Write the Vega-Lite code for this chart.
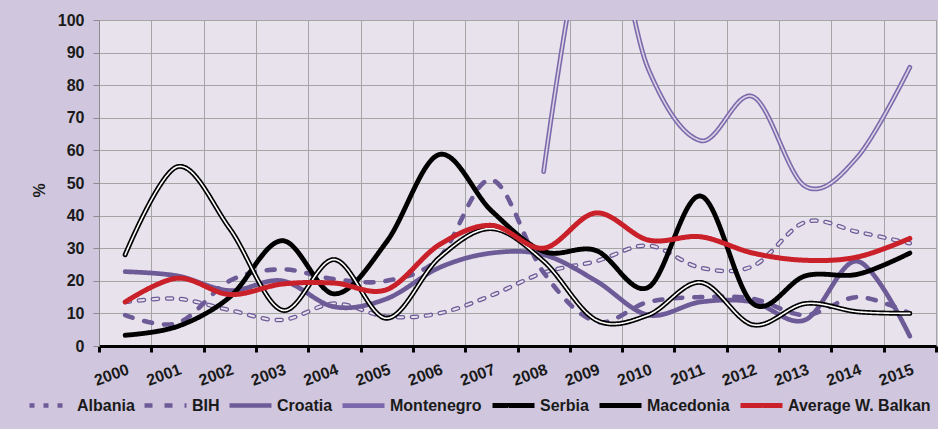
{
  "$schema": "https://vega.github.io/schema/vega-lite/v6.json",
  "width": 837,
  "height": 326,
  "autosize": {"type": "none"},
  "padding": {"left": 99, "top": 20, "right": 2, "bottom": 83},
  "background": "#D0C7DE",
  "config": {
    "view": {"fill": "#E8E2EC", "stroke": null},
    "font": "Liberation Sans",
    "axis": {"labelFont": "Liberation Sans", "labelFontSize": 16, "labelFontWeight": "bold", "labelColor": "#1a1a1a", "gridColor": "#A5A5A5", "gridWidth": 1, "gridOpacity": 1},
    "legend": {"labelFont": "Liberation Sans", "labelFontSize": 16, "labelFontWeight": "bold", "labelColor": "#1a1a1a", "labelLimit": 300}
  },
  "data": {"values": [
    {"year": "2000", "series": "Albania", "value": 13.5},
    {"year": "2001", "series": "Albania", "value": 14.5},
    {"year": "2002", "series": "Albania", "value": 11},
    {"year": "2003", "series": "Albania", "value": 8},
    {"year": "2004", "series": "Albania", "value": 13},
    {"year": "2005", "series": "Albania", "value": 9},
    {"year": "2006", "series": "Albania", "value": 10},
    {"year": "2007", "series": "Albania", "value": 15.5},
    {"year": "2008", "series": "Albania", "value": 22.5},
    {"year": "2009", "series": "Albania", "value": 26},
    {"year": "2010", "series": "Albania", "value": 30.8},
    {"year": "2011", "series": "Albania", "value": 24},
    {"year": "2012", "series": "Albania", "value": 24.5},
    {"year": "2013", "series": "Albania", "value": 38},
    {"year": "2014", "series": "Albania", "value": 35},
    {"year": "2015", "series": "Albania", "value": 31.5},
    {"year": "2000", "series": "BIH", "value": 9.5},
    {"year": "2001", "series": "BIH", "value": 7},
    {"year": "2002", "series": "BIH", "value": 20},
    {"year": "2003", "series": "BIH", "value": 23.5},
    {"year": "2004", "series": "BIH", "value": 20.5},
    {"year": "2005", "series": "BIH", "value": 20},
    {"year": "2006", "series": "BIH", "value": 27},
    {"year": "2007", "series": "BIH", "value": 51},
    {"year": "2008", "series": "BIH", "value": 22.5},
    {"year": "2009", "series": "BIH", "value": 7.5},
    {"year": "2010", "series": "BIH", "value": 13.5},
    {"year": "2011", "series": "BIH", "value": 15},
    {"year": "2012", "series": "BIH", "value": 14.5},
    {"year": "2013", "series": "BIH", "value": 9.5},
    {"year": "2014", "series": "BIH", "value": 15},
    {"year": "2015", "series": "BIH", "value": 10},
    {"year": "2000", "series": "Croatia", "value": 22.8},
    {"year": "2001", "series": "Croatia", "value": 21.5},
    {"year": "2002", "series": "Croatia", "value": 17},
    {"year": "2003", "series": "Croatia", "value": 20},
    {"year": "2004", "series": "Croatia", "value": 12},
    {"year": "2005", "series": "Croatia", "value": 14.5},
    {"year": "2006", "series": "Croatia", "value": 24},
    {"year": "2007", "series": "Croatia", "value": 28.5},
    {"year": "2008", "series": "Croatia", "value": 28},
    {"year": "2009", "series": "Croatia", "value": 20},
    {"year": "2010", "series": "Croatia", "value": 9.5},
    {"year": "2011", "series": "Croatia", "value": 13.5},
    {"year": "2012", "series": "Croatia", "value": 13.5},
    {"year": "2013", "series": "Croatia", "value": 8},
    {"year": "2014", "series": "Croatia", "value": 26},
    {"year": "2015", "series": "Croatia", "value": 3},
    {"year": "2008", "series": "Montenegro", "value": 53.5},
    {"year": "2009", "series": "Montenegro", "value": 138},
    {"year": "2010", "series": "Montenegro", "value": 85},
    {"year": "2011", "series": "Montenegro", "value": 63},
    {"year": "2012", "series": "Montenegro", "value": 76.5},
    {"year": "2013", "series": "Montenegro", "value": 49},
    {"year": "2014", "series": "Montenegro", "value": 58},
    {"year": "2015", "series": "Montenegro", "value": 85.5},
    {"year": "2000", "series": "Serbia", "value": 3.3},
    {"year": "2001", "series": "Serbia", "value": 6},
    {"year": "2002", "series": "Serbia", "value": 15},
    {"year": "2003", "series": "Serbia", "value": 32.3},
    {"year": "2004", "series": "Serbia", "value": 16},
    {"year": "2005", "series": "Serbia", "value": 32},
    {"year": "2006", "series": "Serbia", "value": 58.7},
    {"year": "2007", "series": "Serbia", "value": 41.5},
    {"year": "2008", "series": "Serbia", "value": 29},
    {"year": "2009", "series": "Serbia", "value": 29.3},
    {"year": "2010", "series": "Serbia", "value": 18},
    {"year": "2011", "series": "Serbia", "value": 46},
    {"year": "2012", "series": "Serbia", "value": 13},
    {"year": "2013", "series": "Serbia", "value": 21.5},
    {"year": "2014", "series": "Serbia", "value": 22},
    {"year": "2015", "series": "Serbia", "value": 28.5},
    {"year": "2000", "series": "Macedonia", "value": 28},
    {"year": "2001", "series": "Macedonia", "value": 55},
    {"year": "2002", "series": "Macedonia", "value": 36},
    {"year": "2003", "series": "Macedonia", "value": 11},
    {"year": "2004", "series": "Macedonia", "value": 26.5},
    {"year": "2005", "series": "Macedonia", "value": 8.5},
    {"year": "2006", "series": "Macedonia", "value": 27},
    {"year": "2007", "series": "Macedonia", "value": 36},
    {"year": "2008", "series": "Macedonia", "value": 26},
    {"year": "2009", "series": "Macedonia", "value": 8},
    {"year": "2010", "series": "Macedonia", "value": 9.5},
    {"year": "2011", "series": "Macedonia", "value": 19.5},
    {"year": "2012", "series": "Macedonia", "value": 6.5},
    {"year": "2013", "series": "Macedonia", "value": 13},
    {"year": "2014", "series": "Macedonia", "value": 10.5},
    {"year": "2015", "series": "Macedonia", "value": 10},
    {"year": "2000", "series": "Average W. Balkan", "value": 13.5},
    {"year": "2001", "series": "Average W. Balkan", "value": 20.8},
    {"year": "2002", "series": "Average W. Balkan", "value": 15.8},
    {"year": "2003", "series": "Average W. Balkan", "value": 19},
    {"year": "2004", "series": "Average W. Balkan", "value": 19.3},
    {"year": "2005", "series": "Average W. Balkan", "value": 17.3},
    {"year": "2006", "series": "Average W. Balkan", "value": 31},
    {"year": "2007", "series": "Average W. Balkan", "value": 37},
    {"year": "2008", "series": "Average W. Balkan", "value": 30},
    {"year": "2009", "series": "Average W. Balkan", "value": 40.8},
    {"year": "2010", "series": "Average W. Balkan", "value": 32.5},
    {"year": "2011", "series": "Average W. Balkan", "value": 33.5},
    {"year": "2012", "series": "Average W. Balkan", "value": 28.5},
    {"year": "2013", "series": "Average W. Balkan", "value": 26.3},
    {"year": "2014", "series": "Average W. Balkan", "value": 27.3},
    {"year": "2015", "series": "Average W. Balkan", "value": 33}
  ]},
  "encoding": {
    "x": {
      "field": "year", "type": "ordinal",
      "scale": {"type": "band", "paddingInner": 0, "paddingOuter": 0},
      "axis": {
        "title": null, "tickBand": "extent", "grid": true,
        "domainColor": "#000000", "domainWidth": 3,
        "tickColor": "#000000", "tickWidth": 3, "tickSize": 6,
        "labelAngle": -20, "labelPadding": 9, "labelOverlap": false
      }
    },
    "y": {
      "field": "value", "type": "quantitative",
      "scale": {"domain": [0, 100], "nice": false, "zero": true},
      "axis": {
        "title": "%", "titleFont": "Liberation Sans", "titleFontSize": 16, "titleFontWeight": "bold", "titleColor": "#1a1a1a",
        "titleX": -60, "titleY": 170, "titleAngle": -90, "titleBaseline": "middle", "titleAlign": "center",
        "values": [0, 10, 20, 30, 40, 50, 60, 70, 80, 90, 100],
        "domainColor": "#8C8C8C", "domainWidth": 1,
        "tickColor": "#8C8C8C", "tickSize": 6, "labelPadding": 9, "grid": true
      }
    },
    "color": {
      "field": "series", "type": "nominal",
      "scale": {
        "domain": ["Albania", "BIH", "Croatia", "Montenegro", "Serbia", "Macedonia", "Average W. Balkan"],
        "range": ["#6D5B98", "#6D5B98", "#6D5B98", "#7B69AB", "#000000", "#000000", "#C9202A"]
      },
      "legend": {
        "title": null, "orient": "none", "legendX": -72, "legendY": 362,
        "direction": "horizontal", "symbolType": "stroke", "symbolSize": 1764,
        "labelOffset": 3, "columnPadding": 0, "padding": 0, "gridAlign": "none"
      }
    },
    "strokeDash": {
      "field": "series", "type": "nominal",
      "scale": {
        "domain": ["Albania", "BIH", "Croatia", "Montenegro", "Serbia", "Macedonia", "Average W. Balkan"],
        "range": [[5, 9], [8, 12], [1, 0], [1, 0], [1, 0], [1, 0], [1, 0]]
      },
      "legend": {
        "title": null, "orient": "none", "legendX": -72, "legendY": 362,
        "direction": "horizontal", "symbolType": "stroke", "symbolSize": 1764,
        "labelOffset": 3, "columnPadding": 0, "padding": 0, "gridAlign": "none"
      }
    },
    "strokeWidth": {
      "field": "series", "type": "nominal",
      "scale": {
        "domain": ["Albania", "BIH", "Croatia", "Montenegro", "Serbia", "Macedonia", "Average W. Balkan"],
        "range": [4.5, 5, 4.5, 4.5, 4.5, 4.5, 4.5]
      },
      "legend": {
        "title": null, "orient": "none", "legendX": -72, "legendY": 362,
        "direction": "horizontal", "symbolType": "stroke", "symbolSize": 1764,
        "labelOffset": 3, "columnPadding": 0, "padding": 0, "gridAlign": "none"
      }
    }
  },
  "layer": [
    {"transform": [{"filter": "datum.series === 'Albania'"}],
     "mark": {"type": "line", "interpolate": "cardinal", "tension": 0, "strokeCap": "round", "clip": true}},
    {"transform": [{"filter": "datum.series === 'Albania'"}],
     "mark": {"type": "line", "interpolate": "cardinal", "tension": 0, "strokeCap": "round", "clip": true},
     "encoding": {"color": {"value": "#E8E2EC"}, "strokeWidth": {"value": 2}, "strokeDash": {"value": [5, 9]}}},
    {"transform": [{"filter": "datum.series === 'BIH'"}],
     "mark": {"type": "line", "interpolate": "cardinal", "tension": 0, "strokeCap": "round", "clip": true}},
    {"transform": [{"filter": "datum.series === 'Croatia'"}],
     "mark": {"type": "line", "interpolate": "cardinal", "tension": 0, "strokeCap": "round", "clip": true}},
    {"transform": [{"filter": "datum.series === 'Montenegro'"}],
     "mark": {"type": "line", "interpolate": "cardinal", "tension": 0, "strokeCap": "round", "clip": true}},
    {"transform": [{"filter": "datum.series === 'Montenegro'"}],
     "mark": {"type": "line", "interpolate": "cardinal", "tension": 0, "strokeCap": "round", "clip": true},
     "encoding": {"color": {"value": "#DCD4E6"}, "strokeWidth": {"value": 1.6}, "strokeDash": {"value": [1, 0]}}},
    {"transform": [{"filter": "datum.series === 'Serbia'"}],
     "mark": {"type": "line", "interpolate": "cardinal", "tension": 0, "strokeCap": "round", "clip": true}},
    {"transform": [{"filter": "datum.series === 'Macedonia'"}],
     "mark": {"type": "line", "interpolate": "cardinal", "tension": 0, "strokeCap": "round", "clip": true}},
    {"transform": [{"filter": "datum.series === 'Macedonia'"}],
     "mark": {"type": "line", "interpolate": "cardinal", "tension": 0, "strokeCap": "round", "clip": true},
     "encoding": {"color": {"value": "#FFFFFF"}, "strokeWidth": {"value": 1.6}, "strokeDash": {"value": [1, 0]}}},
    {"transform": [{"filter": "datum.series === 'Average W. Balkan'"}],
     "mark": {"type": "line", "interpolate": "cardinal", "tension": 0, "strokeCap": "round", "clip": true}}
  ]
}
